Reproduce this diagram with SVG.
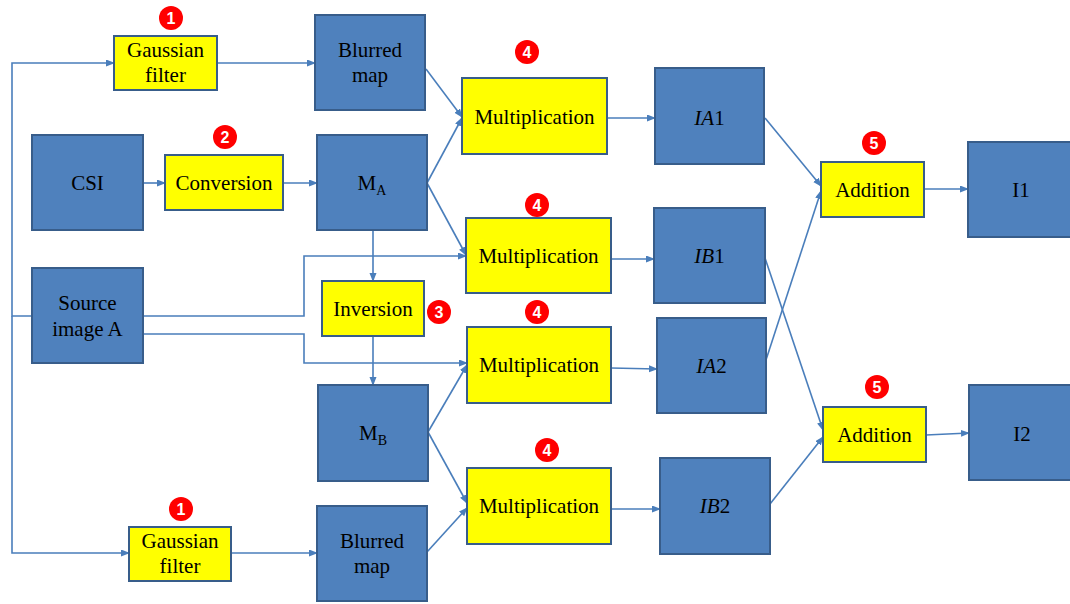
<svg xmlns="http://www.w3.org/2000/svg" width="1070" height="604" viewBox="0 0 1070 604">
  <defs>
    <marker id="arrow" markerUnits="userSpaceOnUse" markerWidth="9" markerHeight="8" refX="8" refY="3.5" orient="auto">
      <path d="M0,0 L9,3.5 L0,7 z" fill="#4A7EBB"/>
    </marker>
    <style>
      .blue { fill: #4F81BD; stroke: #385D8A; stroke-width: 2; }
      .yellow { fill: #FFFF00; stroke: #385D8A; stroke-width: 2; }
      .lbl { font-family: "Liberation Serif", "Times New Roman", serif; font-size: 21px; fill: #000; text-anchor: middle; }
      .sub { font-size: 14px; }
      .badge circle { fill: #FF0000; }
      .badge text { font-family: "Liberation Sans", Arial, sans-serif; font-size: 16px; font-weight: bold; fill: #fff; text-anchor: middle; }
      .conn path { fill: none; stroke: #4A7EBB; stroke-width: 1.6; }
    </style>
  </defs>
  <rect width="1070" height="604" fill="#fff"/>

  <!-- connectors -->
  <g id="connectors" class="conn">
    <path d="M32,316 H12 V63 H114" marker-end="url(#arrow)"/>
    <path d="M12,316 V553 H129" marker-end="url(#arrow)"/>
    <path d="M217,63 H315" marker-end="url(#arrow)"/>
    <path d="M143,183 H165" marker-end="url(#arrow)"/>
    <path d="M283,183 H317" marker-end="url(#arrow)"/>
    <path d="M426,69 L462,117" marker-end="url(#arrow)"/>
    <path d="M427,183 L462,118" marker-end="url(#arrow)"/>
    <path d="M427,183 L466,255" marker-end="url(#arrow)"/>
    <path d="M373,230 V281" marker-end="url(#arrow)"/>
    <path d="M373,336 V385" marker-end="url(#arrow)"/>
    <path d="M143,316 H304 V256 H466" marker-end="url(#arrow)"/>
    <path d="M143,334 H304 V363 H467" marker-end="url(#arrow)"/>
    <path d="M428,432 L467,365" marker-end="url(#arrow)"/>
    <path d="M428,432 L467,503" marker-end="url(#arrow)"/>
    <path d="M231,553 H317" marker-end="url(#arrow)"/>
    <path d="M427,552 L467,508" marker-end="url(#arrow)"/>
    <path d="M607,118 H655" marker-end="url(#arrow)"/>
    <path d="M611,259 H654" marker-end="url(#arrow)"/>
    <path d="M611,368 L657,369" marker-end="url(#arrow)"/>
    <path d="M611,509 H660" marker-end="url(#arrow)"/>
    <path d="M765,118 L821,186" marker-end="url(#arrow)"/>
    <path d="M765,363 L821,191" marker-end="url(#arrow)"/>
    <path d="M765,258 L823,430" marker-end="url(#arrow)"/>
    <path d="M770,504 L823,437" marker-end="url(#arrow)"/>
    <path d="M924,189 H968" marker-end="url(#arrow)"/>
    <path d="M926,435 L969,433" marker-end="url(#arrow)"/>
  </g>

  <!-- source blocks -->
  <g id="csi">
    <rect class="blue" x="32" y="135" width="111" height="95"/>
    <text class="lbl" x="87.5" y="190">CSI</text>
  </g>
  <g id="source-a">
    <rect class="blue" x="32" y="268" width="111" height="95"/>
    <text class="lbl" x="87.5" y="310">Source</text>
    <text class="lbl" x="87.5" y="336">image A</text>
  </g>

  <!-- pre-processing -->
  <g id="gauss-1">
    <rect class="yellow" x="114" y="36" width="103" height="54"/>
    <text class="lbl" x="165.5" y="57">Gaussian</text>
    <text class="lbl" x="165.5" y="82">filter</text>
  </g>
  <g id="conversion">
    <rect class="yellow" x="165" y="155" width="118" height="55"/>
    <text class="lbl" x="224" y="190">Conversion</text>
  </g>
  <g id="gauss-2">
    <rect class="yellow" x="129" y="527" width="102" height="54"/>
    <text class="lbl" x="180" y="548">Gaussian</text>
    <text class="lbl" x="180" y="573">filter</text>
  </g>

  <!-- maps -->
  <g id="blurred-1">
    <rect class="blue" x="315" y="15" width="110" height="95"/>
    <text class="lbl" x="370" y="57">Blurred</text>
    <text class="lbl" x="370" y="82">map</text>
  </g>
  <g id="m-a">
    <rect class="blue" x="317" y="135" width="110" height="95"/>
    <text class="lbl" x="372" y="190">M<tspan class="sub" dy="5">A</tspan></text>
  </g>
  <g id="inversion">
    <rect class="yellow" x="322" y="281" width="102" height="55"/>
    <text class="lbl" x="373" y="316">Inversion</text>
  </g>
  <g id="m-b">
    <rect class="blue" x="318" y="385" width="110" height="96"/>
    <text class="lbl" x="373" y="440">M<tspan class="sub" dy="5">B</tspan></text>
  </g>
  <g id="blurred-2">
    <rect class="blue" x="317" y="506" width="110" height="95"/>
    <text class="lbl" x="372" y="548">Blurred</text>
    <text class="lbl" x="372" y="573">map</text>
  </g>

  <!-- multiplications -->
  <g id="mult-1">
    <rect class="yellow" x="462" y="78" width="145" height="76"/>
    <text class="lbl" x="534.5" y="124">Multiplication</text>
  </g>
  <g id="mult-2">
    <rect class="yellow" x="466" y="218" width="145" height="75"/>
    <text class="lbl" x="538.5" y="263">Multiplication</text>
  </g>
  <g id="mult-3">
    <rect class="yellow" x="467" y="327" width="144" height="76"/>
    <text class="lbl" x="539" y="372">Multiplication</text>
  </g>
  <g id="mult-4">
    <rect class="yellow" x="467" y="468" width="144" height="76"/>
    <text class="lbl" x="539" y="513">Multiplication</text>
  </g>

  <!-- weighted images -->
  <g id="ia1">
    <rect class="blue" x="655" y="68" width="109" height="96"/>
    <text class="lbl" x="709.5" y="125"><tspan font-style="italic">IA</tspan>1</text>
  </g>
  <g id="ib1">
    <rect class="blue" x="654" y="208" width="111" height="95"/>
    <text class="lbl" x="709.5" y="263"><tspan font-style="italic">IB</tspan>1</text>
  </g>
  <g id="ia2">
    <rect class="blue" x="657" y="318" width="109" height="95"/>
    <text class="lbl" x="711.5" y="373"><tspan font-style="italic">IA</tspan>2</text>
  </g>
  <g id="ib2">
    <rect class="blue" x="660" y="458" width="110" height="96"/>
    <text class="lbl" x="715" y="513"><tspan font-style="italic">IB</tspan>2</text>
  </g>

  <!-- additions and outputs -->
  <g id="add-1">
    <rect class="yellow" x="821" y="162" width="103" height="55"/>
    <text class="lbl" x="872.5" y="197">Addition</text>
  </g>
  <g id="add-2">
    <rect class="yellow" x="823" y="407" width="103" height="55"/>
    <text class="lbl" x="874.5" y="442">Addition</text>
  </g>
  <g id="out-i1">
    <rect class="blue" x="968" y="142" width="110" height="95"/>
    <text class="lbl" x="1021" y="197">I1</text>
  </g>
  <g id="out-i2">
    <rect class="blue" x="969" y="385" width="110" height="95"/>
    <text class="lbl" x="1022" y="441">I2</text>
  </g>

  <!-- step numbers -->
  <g id="badges" class="badge">
    <g><circle cx="171" cy="18" r="12"/><text x="171" y="24">1</text></g>
    <g><circle cx="225" cy="137" r="12"/><text x="225" y="143">2</text></g>
    <g><circle cx="527" cy="52" r="12"/><text x="527" y="58">4</text></g>
    <g><circle cx="537" cy="205" r="12"/><text x="537" y="211">4</text></g>
    <g><circle cx="439" cy="312" r="12"/><text x="439" y="318">3</text></g>
    <g><circle cx="537" cy="312" r="12"/><text x="537" y="318">4</text></g>
    <g><circle cx="547" cy="450" r="12"/><text x="547" y="456">4</text></g>
    <g><circle cx="874" cy="143" r="12"/><text x="874" y="149">5</text></g>
    <g><circle cx="877" cy="387" r="12"/><text x="877" y="393">5</text></g>
    <g><circle cx="181" cy="509" r="12"/><text x="181" y="515">1</text></g>
  </g>
</svg>
